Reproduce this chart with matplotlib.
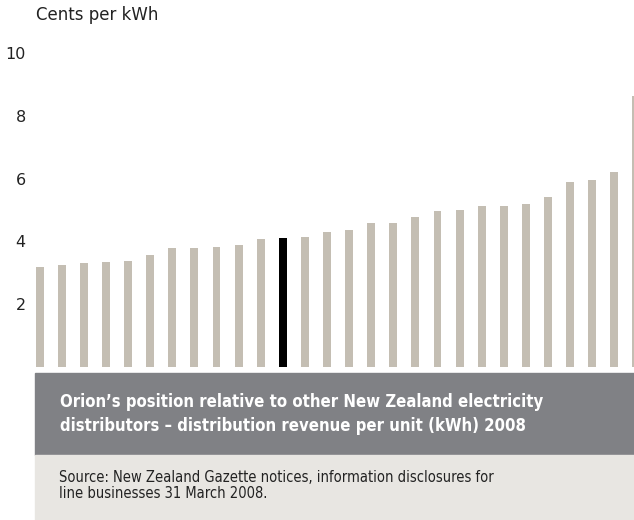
import matplotlib
matplotlib.use("Agg")
import matplotlib.pyplot as plt
from matplotlib.patches import Rectangle

# distribution revenue per unit, cents per kWh, sorted low to high
values = [3.19, 3.24, 3.31, 3.34, 3.37, 3.56, 3.79, 3.79, 3.82, 3.88,
          4.07, 4.11, 4.14, 4.30, 4.36, 4.58, 4.58, 4.78, 4.97, 5.00,
          5.13, 5.13, 5.19, 5.41, 5.89, 5.96, 6.21, 8.64]
orion_index = 11
yticks = [2, 4, 6, 8, 10]
ylabels = ["2", "4", "6", "8", "10"]

bar_color = "#c4beb3"
orion_color = "#000000"
dark_box = "#808185"
light_box = "#e8e6e2"

W, H = 634, 520
fig = plt.figure(figsize=(W / 100, H / 100), dpi=100)

# axes placed so bars land where the original has them
ax = fig.add_axes([30 / W, (H - 366.7) / H, (W - 30) / W, 313.4 / H])
x = list(range(len(values)))
colors = [orion_color if i == orion_index else bar_color for i in x]
ax.bar(x, values, width=0.36, color=colors, linewidth=0)
ax.set_xlim((30 - 39.7) / 22.1, (634 - 39.7) / 22.1)
ax.set_ylim(0, 10)
ax.set_yticks(yticks)
ax.set_yticklabels(ylabels, fontsize=11.5, color="#222222")
ax.tick_params(axis="y", length=0, pad=3)
ax.set_xticks([])
for s in ax.spines.values():
    s.set_visible(False)

fig.text(36 / W, 1 - 15 / H, "Cents per kWh", fontsize=12, color="#222222",
         ha="left", va="center")

# caption boxes
fig.patches.append(Rectangle((35 / W, (H - 455) / H), (W - 35) / W, 82 / H,
                             transform=fig.transFigure, color=dark_box, zorder=0))
fig.patches.append(Rectangle((35 / W, 0), (W - 35) / W, 65 / H,
                             transform=fig.transFigure, color=light_box, zorder=0))

cap = dict(family="DejaVu Sans", fontstretch="condensed", ha="left", va="center")
fig.text(60 / W, 1 - 402 / H, "Orion\u2019s position relative to other New Zealand electricity",
         fontsize=12, fontweight="bold", color="white", **cap)
fig.text(60 / W, 1 - 426 / H, "distributors \u2013 distribution revenue per unit (kWh) 2008",
         fontsize=12, fontweight="bold", color="white", **cap)
fig.text(59 / W, 1 - 478 / H, "Source: New Zealand Gazette notices, information disclosures for",
         fontsize=10.5, color="#222222", **cap)
fig.text(59 / W, 1 - 494 / H, "line businesses 31 March 2008.",
         fontsize=10.5, color="#222222", **cap)

fig.savefig("out.png", dpi=100)
